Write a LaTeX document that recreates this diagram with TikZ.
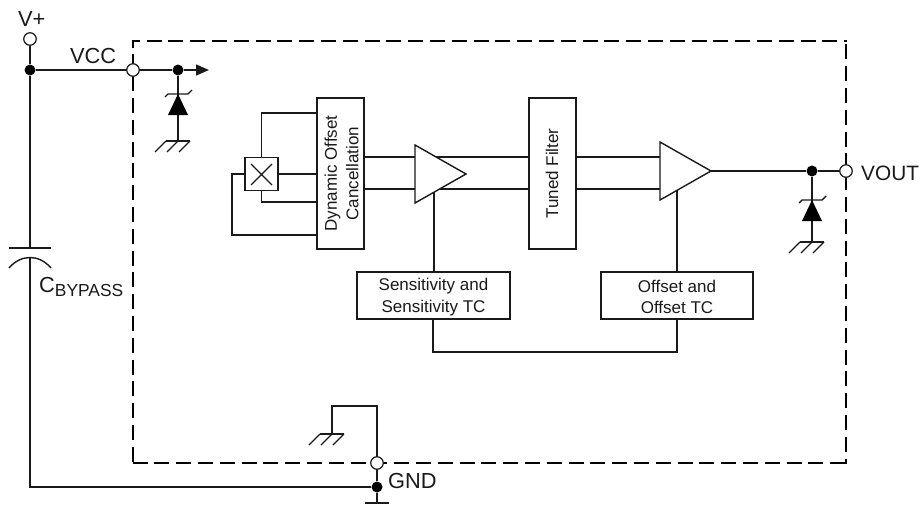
\documentclass[tikz,border=0pt]{standalone}
\usepackage{fontspec}
\setmainfont{Liberation Sans}
\usetikzlibrary{arrows.meta}
\definecolor{ink}{HTML}{1A1A1A}
\tikzset{
  x=1pt,y=-1pt,
  wire/.style={draw=ink,line width=1.4pt},
  border/.style={draw=black,line width=2.9pt,dash pattern=on 15pt off 6.8pt},
  blockbox/.style={draw=ink,line width=1.4pt,fill=white,inner sep=0pt},
  amp/.style={draw=ink,line width=1.4pt,fill=white,line join=miter},
  opendot/.style={circle,draw=ink,line width=1.2pt,fill=white,minimum size=12.5pt,inner sep=0pt},
  soliddot/.style={circle,fill=black,minimum size=11pt,inner sep=0pt},
  biglabel/.style={inner sep=0pt,font=\fontsize{21.8}{24}\selectfont,text=ink},
  smalllabel/.style={inner sep=0pt,align=center,font=\fontsize{17}{21.5}\selectfont,text=ink},
  pics/earth/.style={code={
    \draw[wire] (-12,0) -- (12,0);
    \draw[wire,line width=1.2pt] (-12,0) -- (-23,11) (0,0) -- (-11,11) (12,0) -- (1,11);
  }},
  pics/zenerdiode/.style={code={
    \fill[black] (0,0) -- (-10,21) -- (10,21) -- cycle;
    \draw[wire] (-13,3) -- (-10,0) -- (10,0) -- (14,-4);
  }},
}
\begin{document}
\begin{tikzpicture}
\useasboundingbox (0,0) rectangle (921,506);
% chip outline, side by side so that the dashes fall where they do in the reference
\draw[border,dash phase=6.8pt] (131.6,41) -- (847.4,41);
\draw[border,dash phase=8.4pt] (133,41) -- (133,464.4);
\draw[border,dash phase=18.4pt] (846,41) -- (846,464.4);
\draw[border,dash phase=0.4pt] (133,463) -- (846,463);
% pins and junctions
\node[soliddot] (jv) at (30,70) {};
\node[soliddot] (jz1) at (178,70) {};
\node[soliddot] (jz2) at (812,171) {};
\node[soliddot] (jg) at (377,487) {};
\coordinate (cap1) at (30,248);
\coordinate (cap2) at (30,257);
\coordinate (gbl) at (30,487);
\coordinate (out) at (209,70);
\coordinate (g1) at (178,141);
\coordinate (g2) at (812,242);
\coordinate (g3) at (332,434);
\coordinate (g3top) at (332,406);
\coordinate (g4) at (377,503);
% blocks
\node[blockbox,minimum width=47pt,minimum height=151pt] (doc) at (340.5,173.5) {};
\node[blockbox,minimum width=47pt,minimum height=151pt] (tf) at (552.5,173.5) {};
\node[blockbox,minimum width=153pt,minimum height=47pt] (sens) at (433.5,295.5) {};
\node[blockbox,minimum width=152pt,minimum height=47pt] (off) at (677,295.5) {};
\node[blockbox,minimum width=33pt,minimum height=33pt] (hall) at (261.5,174) {};
\coordinate (a1t) at (415,145); \coordinate (a1b) at (415,203); \coordinate (a1o) at (466,174);
\coordinate (a2t) at (660,142); \coordinate (a2b) at (660,200); \coordinate (a2o) at (711,171);
\coordinate (y1) at (0,157); \coordinate (y2) at (0,189);
\coordinate (h1) at (0,113); \coordinate (h3) at (0,202); \coordinate (h4) at (0,235);
\coordinate (lft) at (232,174);
\coordinate (a1s) at (434,192); \coordinate (a2s) at (677,190);
\coordinate (busl) at (433,352);
% wires
\draw[wire] (jv) -- (cap1);
\draw[wire] (cap2) -- (gbl) -- (jg);
\draw[wire] (jv) -- (133,70) -- (jz1);
\draw[wire,-{Triangle[length=13pt,width=11pt]}] (jz1) -- (out);
\draw[wire] (jz1) -- (g1);
\draw[wire] (jz2) -- (g2);
\draw[wire] (a2o) -- (jz2) -- (846,171);
\draw[wire] (hall.north) -- (hall.north |- h1) -- (doc.west |- h1);
\draw[wire] (hall.east) -- (doc.west |- hall.east);
\draw[wire] (hall.south) -- (hall.south |- h3) -- (doc.west |- h3);
\draw[wire] (hall.west) -- (lft) -- (lft |- h4) -- (doc.west |- h4);
\draw[wire] (doc.east |- y1) -- (tf.west |- y1);
\draw[wire] (doc.east |- y2) -- (tf.west |- y2);
\draw[wire] (tf.east |- y1) -- (a2t |- y1);
\draw[wire] (tf.east |- y2) -- (a2t |- y2);
\draw[wire] (a1s) -- (a1s |- sens.north);
\draw[wire] (a2s) -- (a2s |- off.north);
\draw[wire] (busl |- sens.south) -- (busl) -- (a2s |- busl) -- (a2s |- off.south);
\draw[wire] (377,463) -- (377,406) -- (g3top) -- (g3);
\draw[wire] (jg) -- (377,463);
\draw[wire] (jg) -- (g4);
% amplifiers
\draw[amp] (a1t) -- (a1o) -- (a1b) -- cycle;
\draw[amp] (a2t) -- (a2o) -- (a2b) -- cycle;
% hall element cross
\draw[wire] (251,164) -- (272,185) (272,164) -- (251,185);
% capacitor
\draw[wire] (9,248) -- (51,248);
\draw[wire] (9,268) .. controls (21,254) and (39,254) .. (51,268);
% zeners and earths
\pic at (178,94) {zenerdiode};
\pic at (812,200) {zenerdiode};
\pic at (g1) {earth};
\pic at (g2) {earth};
\pic at (g3) {earth};
\draw[wire] (365,503) -- (389,503);
% open pin circles
\node[opendot] (pv) at (30,39) {};
\draw[wire] (pv) -- (jv);
\node[opendot] (pcc) at (133,70) {};
\node[opendot] (pout) at (846,171) {};
\node[opendot] (pgnd) at (377,463) {};
% labels
\node[biglabel,anchor=base west] (lv) at (18,27) {V+};
\node[biglabel,anchor=base west] (lcc) at (70,63) {VCC};
\node[biglabel,anchor=base west,font=\fontsize{20.8}{24}\selectfont] (lout) at (861,180) {VOUT};
\node[biglabel,anchor=base west] (lgnd) at (388,488) {GND};
\node[biglabel,anchor=base west] (lc) at (39,292) {C\raisebox{-4pt}{\fontsize{17.4}{20}\selectfont BYPASS}};
\node[smalllabel,rotate=90] (tdoc) at ([xshift=1pt]doc.center) {Dynamic Offset\\Cancellation};
\node[smalllabel,rotate=90] (ttf) at ([xshift=-0.5pt]tf.center) {Tuned Filter};
\node[smalllabel] (tsens) at ([yshift=-1.5pt]sens.center) {Sensitivity and\\Sensitivity TC};
\node[smalllabel] (toff) at ([yshift=-1.5pt]off.center) {Offset and\\Offset TC};
\end{tikzpicture}
\end{document}
